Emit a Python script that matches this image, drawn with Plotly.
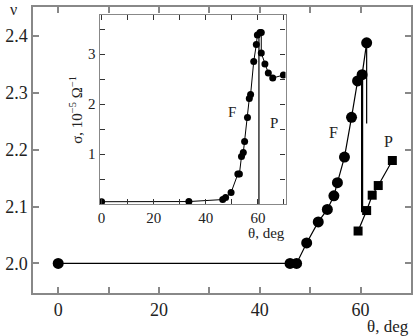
import plotly.graph_objects as go

# main plot: nu vs theta
theta_F = [0, 46.0, 47.3, 49.3, 51.6, 53.4, 54.7, 55.4, 56.8, 58.2, 59.4, 60.3, 61.2]
nu_F = [2.0, 2.0, 2.0, 2.036, 2.073, 2.095, 2.119, 2.142, 2.187, 2.257, 2.321, 2.332, 2.388]

theta_P = [59.5, 61.2, 62.3, 63.5, 66.3]
nu_P = [2.057, 2.093, 2.12, 2.137, 2.181]

# vertical jumps at the F/P boundary
jump1_theta = [60.3, 60.3]
jump1_nu = [2.332, 2.09]
jump2_theta = [61.2, 61.2]
jump2_nu = [2.388, 2.246]

# inset: sigma vs theta
theta_in = [0, 33.5, 46.5, 47.6, 49.7, 52.3, 52.9, 53.7, 54.4, 54.9, 56.0, 56.7, 57.2,
            58.4, 59.4, 59.8, 60.8, 61.3, 61.3, 62.7, 64.0, 65.7, 69.8]
sigma_in = [0.047, 0.05, 0.09, 0.13, 0.23, 0.6, 0.6, 0.95, 1.03, 1.25, 1.73, 2.11, 2.19,
            2.85, 3.19, 3.38, 3.43, 3.43, 3.02, 2.8, 2.62, 2.52, 2.58]
vline_theta = [60.4, 60.4]
vline_sigma = [3.4, 0]

FONT = "Liberation Serif, Times New Roman, serif"
AX = "#888888"
TXT = "#222222"

fig = go.Figure()

fig.add_trace(go.Scatter(x=theta_F, y=nu_F, mode="lines+markers",
                         line=dict(color="black", width=1.2),
                         marker=dict(symbol="circle", size=11, color="black")))
fig.add_trace(go.Scatter(x=theta_P, y=nu_P, mode="lines+markers",
                         line=dict(color="black", width=1.2),
                         marker=dict(symbol="square", size=9, color="black")))
fig.add_trace(go.Scatter(x=jump1_theta, y=jump1_nu, mode="lines",
                         line=dict(color="black", width=2.2)))
fig.add_trace(go.Scatter(x=jump2_theta, y=jump2_nu, mode="lines",
                         line=dict(color="black", width=1.2)))

fig.add_trace(go.Scatter(x=theta_in, y=sigma_in, mode="lines+markers",
                         xaxis="x2", yaxis="y2",
                         line=dict(color="black", width=1),
                         marker=dict(symbol="circle", size=7, color="black")))
fig.add_trace(go.Scatter(x=vline_theta, y=vline_sigma, mode="lines",
                         xaxis="x2", yaxis="y2",
                         line=dict(color="black", width=1.2)))


def ax(size, lw, tlen, tcol):
    return dict(showline=True, linecolor=AX, linewidth=lw, mirror="ticks",
                ticks="inside", tickcolor=tcol, ticklen=tlen, tickwidth=lw,
                showgrid=False, zeroline=False,
                tickfont=dict(family=FONT, size=size, color=TXT))


main_ax = ax(18, 1.5, 6, AX)
in_ax = ax(15, 1.2, 5, "#333333")

fig.update_layout(
    width=415, height=336,
    margin=dict(l=33, r=2, t=7, b=43),
    plot_bgcolor="white", paper_bgcolor="white",
    showlegend=False,
    font=dict(family=FONT, color=TXT),
    xaxis=dict(range=[-5, 70], tick0=0, dtick=20,
               minor=dict(ticks="inside", dtick=10, ticklen=6, tickcolor=AX, tickwidth=1.5),
               **main_ax),
    yaxis=dict(range=[1.948, 2.451], tick0=2.0, dtick=0.1, tickformat=".1f", **main_ax),
    xaxis2=dict(domain=[0.176, 0.668], anchor="y2", range=[-0.8, 70.6], tick0=0, dtick=20,
                minor=dict(ticks="inside", dtick=10, ticklen=5, tickcolor="#333333", tickwidth=1.2),
                **in_ax),
    yaxis2=dict(domain=[0.311, 0.972], anchor="x2", range=[0, 3.78], tickvals=[1, 2, 3],
                minor=dict(ticks="inside", tick0=0, dtick=0.5, ticklen=5, tickcolor="#333333",
                           tickwidth=1.2),
                **in_ax),
)

ann = [
    dict(text="ν", x=13, y=-1, xanchor="center", yanchor="top", size=16),
    dict(text="θ, deg", x=413, y=326, xanchor="right", yanchor="middle", size=17),
    dict(text="θ, deg", x=288, y=233, xanchor="right", yanchor="middle", size=15),
    dict(text="F", x=335, y=132, xanchor="center", yanchor="middle", size=16),
    dict(text="P", x=390, y=142, xanchor="center", yanchor="middle", size=16),
    dict(text="F", x=233, y=112, xanchor="center", yanchor="middle", size=15),
    dict(text="P", x=275, y=123, xanchor="center", yanchor="middle", size=15),
]
for a in ann:
    fig.add_annotation(text=a["text"], xref="paper", yref="paper",
                       x=(a["x"] - 33) / 380, y=(293 - a["y"]) / 286,
                       xanchor=a["xanchor"], yanchor=a["yanchor"], showarrow=False,
                       font=dict(family=FONT, size=a["size"], color=TXT))

fig.add_annotation(text="σ, 10<sup>−5</sup> Ω<sup>−1</sup>", xref="paper", yref="paper",
                   x=(76 - 33) / 380, y=(293 - 110) / 286, textangle=-90,
                   xanchor="center", yanchor="middle", showarrow=False,
                   font=dict(family=FONT, size=15, color=TXT))

# drop the default page margin so the figure sits at the window's corner
fig.write_html("out.html", config={"displayModeBar": False},
               post_script="document.body.style.margin='0';")
